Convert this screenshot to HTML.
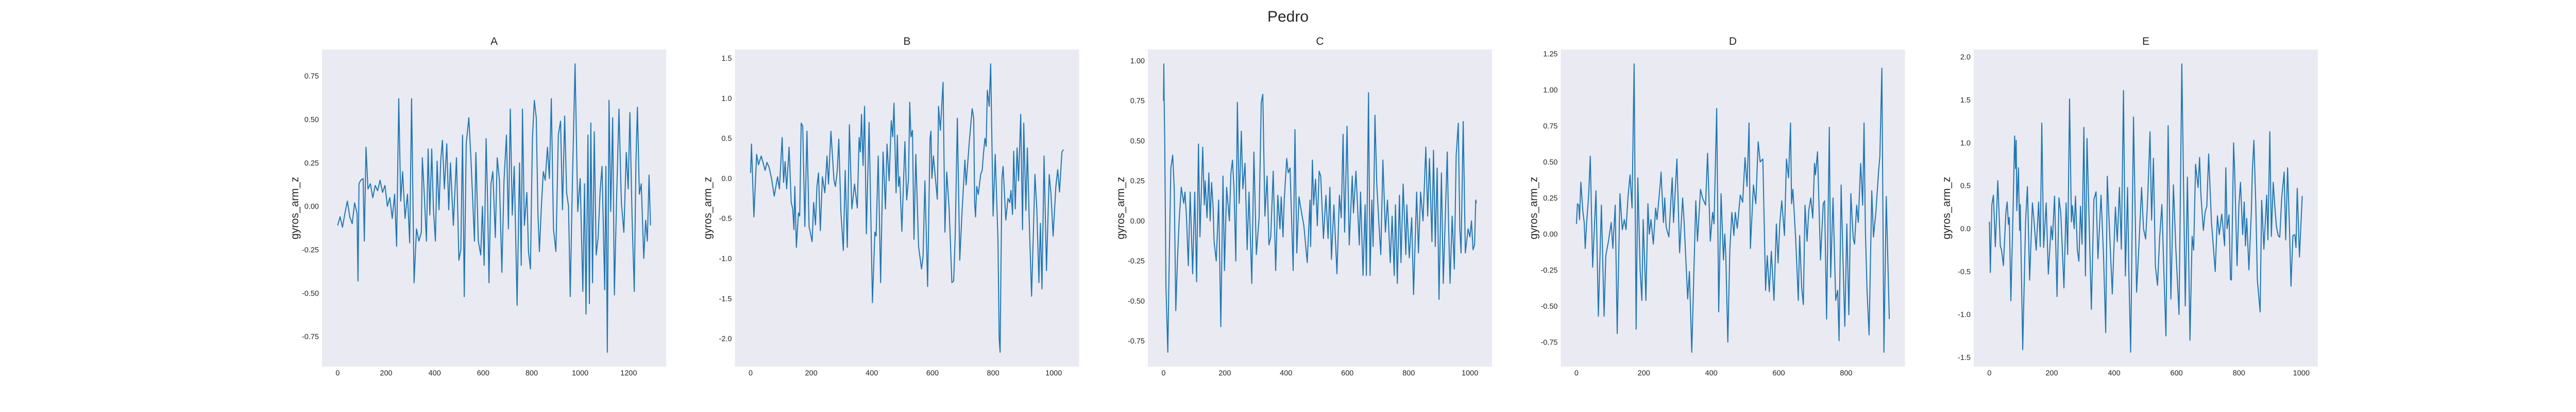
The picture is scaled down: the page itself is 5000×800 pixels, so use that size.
<!DOCTYPE html>
<html><head><meta charset="utf-8"><style>
html,body{margin:0;padding:0;background:#fff;}
svg{display:block;font-family:"Liberation Sans",sans-serif;}
</style></head><body>
<svg id="fig" width="5000" height="800" viewBox="0 0 5000 800" xmlns="http://www.w3.org/2000/svg">
<text x="2500" y="42" text-anchor="middle" font-size="30" fill="#262626">Pedro</text>
</svg>
<script>
const panelNames = ["A","B","C","D","E"];
const aX = [0,10,20,30,40,50,60,70,80,84,88,95,105,110,117,125,135,145,155,165,175,185,195,205,215,225,235,243,252,260,268,278,288,297,305,315,325,335,345,349,355,366,373,380,388,395,403,410,418,425,432,440,450,458,465,477,490,500,508,515,522,530,541,550,557,564,570,580,590,597,604,612,618,624,632,640,650,658,667,677,686,696,704,712,720,728,740,750,757,762,770,780,787,795,803,811,819,826,832,840,848,856,865,873,881,890,900,910,919,927,936,944,952,959,968,979,990,1000,1011,1018,1024,1032,1038,1044,1051,1058,1066,1074,1082,1090,1101,1106,1112,1119,1126,1134,1141,1150,1160,1170,1180,1190,1198,1205,1214,1223,1230,1236,1244,1252,1262,1270,1277,1284,1290];
const aY = [-0.11,-0.06,-0.12,-0.04,0.03,-0.06,-0.1,0.02,-0.04,-0.43,0.13,0.15,0.16,-0.2,0.34,0.1,0.13,0.05,0.12,0.09,0.15,0.08,0.12,0.0,0.05,-0.07,0.07,-0.23,0.62,0.03,0.2,-0.07,0.07,-0.21,0.62,-0.44,-0.13,-0.2,-0.15,0.28,0.13,-0.2,0.33,-0.05,0.33,-0.02,-0.2,0.26,-0.02,0.26,0.38,0.1,0.36,-0.02,0.25,-0.11,0.28,-0.31,-0.25,0.41,-0.52,0.36,0.51,0.26,0.03,-0.2,0.31,-0.2,-0.28,0.0,-0.34,0.39,0.05,-0.44,0.13,0.2,-0.18,0.28,0.15,-0.38,0.15,0.41,-0.13,0.56,-0.05,0.23,-0.57,0.25,-0.34,0.56,-0.11,0.08,-0.26,-0.36,0.39,0.61,0.51,-0.05,-0.26,0.0,0.2,0.15,0.34,0.16,0.62,-0.13,-0.26,0.41,0.49,-0.02,0.52,0.08,0.0,-0.52,0.15,0.82,-0.03,0.16,-0.49,0.13,-0.62,0.41,-0.56,0.48,-0.44,0.43,-0.28,-0.18,0.08,0.23,-0.48,0.23,-0.84,0.61,-0.03,0.51,-0.51,0.03,0.56,0.02,-0.15,0.31,0.1,0.54,-0.07,-0.49,0.26,0.57,0.07,0.13,-0.3,-0.08,-0.2,0.18,-0.11];
const bX = [0,3,11,20,26,35,43,48,54,61,69,78,89,95,104,109,114,119,127,134,139,143,146,151,158,162,167,172,179,186,193,203,208,214,219,224,230,237,245,252,257,265,275,280,286,291,298,306,312,319,326,334,343,352,358,362,366,371,376,382,391,402,410,414,421,429,437,445,450,457,464,469,473,480,484,488,492,499,509,515,521,525,529,534,539,545,554,564,569,575,584,592,595,598,603,616,620,626,635,641,647,655,664,670,675,682,690,698,707,711,722,731,736,739,742,746,751,759,764,768,773,777,781,787,792,800,807,816,820,823,829,833,842,849,855,859,864,868,873,879,884,891,897,901,908,913,919,927,933,938,944,951,956,961,968,976,985,991,998,1007,1013,1019,1027,1032];
const bY = [0.07,0.43,-0.48,0.3,0.17,0.28,0.17,0.1,0.2,0.14,0.0,-0.22,0.02,-0.13,0.51,-0.05,0.21,-0.13,0.39,-0.3,-0.38,-0.64,-0.1,-0.86,-0.43,-0.47,0.69,0.65,-0.6,0.59,-0.6,-0.79,-0.3,-0.58,-0.1,0.07,-0.65,0.02,-0.18,0.28,-0.07,0.59,-0.02,-0.1,0.1,0.49,-0.42,-0.9,0.1,-0.86,0.67,-0.38,-0.07,-0.37,0.51,0.33,0.8,0.16,0.9,-0.69,0.7,-1.55,-0.67,-0.72,0.28,-1.3,0.33,-0.38,0.43,-0.03,0.72,0.52,0.94,-0.18,0.54,-0.1,0.02,-0.66,0.46,-0.27,0.0,0.95,0.52,0.6,-0.76,0.3,-0.85,-1.13,-0.97,-0.03,-1.35,0.5,0.59,0.0,0.28,-0.26,0.9,0.6,1.2,-0.67,0.08,-0.38,-1.3,-1.28,-0.7,0.75,-1.02,-0.38,0.23,-0.08,0.48,0.87,0.75,-0.3,-0.48,-0.1,-0.2,0.05,0.1,0.3,0.5,0.4,1.1,0.9,1.43,-0.47,0.3,-0.75,-2.0,-2.17,0.0,0.15,-0.52,-0.25,-0.3,-0.15,-0.45,0.34,-0.38,0.38,-0.03,0.8,-0.64,0.69,-0.4,0.38,-0.5,-1.47,-0.65,0.05,-0.37,-1.3,-0.56,-1.38,0.28,-1.15,0.05,-0.2,-0.72,-0.1,0.11,-0.17,0.33,0.36];
const cX = [0,1,2,4,8,14,19,24,30,35,40,46,51,58,66,70,75,81,87,95,102,108,114,119,128,133,136,142,148,152,157,162,165,172,180,187,194,199,206,215,220,225,230,236,241,247,254,259,266,273,279,288,295,303,312,319,324,331,338,344,350,358,366,373,380,384,390,394,402,407,413,423,429,435,442,448,458,469,478,480,486,490,496,502,508,513,522,530,537,543,548,556,566,574,580,586,591,599,606,616,620,628,639,643,651,658,662,669,674,680,684,690,696,703,709,716,724,731,740,746,753,757,763,770,775,782,791,794,802,810,816,826,832,839,847,856,862,868,876,881,887,893,899,907,913,926,930,935,942,949,955,962,967,971,978,985,994,1000,1005,1010,1015,1019,1021];
const cY = [0.75,0.98,0.75,0.5,-0.41,-0.82,-0.2,0.33,0.41,0.2,-0.56,-0.22,0.0,0.21,0.11,0.18,0.02,-0.28,0.18,-0.33,0.18,-0.38,0.48,-0.1,0.46,0.1,0.25,0.02,0.3,0.0,0.24,0.08,-0.13,-0.25,0.13,-0.66,0.28,-0.31,0.21,0.0,0.3,0.38,0.2,-0.25,0.74,0.11,0.56,0.2,0.36,-0.18,0.18,-0.39,0.43,-0.21,0.02,0.74,0.79,0.03,0.28,-0.15,-0.1,0.31,-0.31,0.16,-0.05,0.15,-0.1,0.13,0.39,0.3,0.33,-0.31,0.57,-0.2,0.15,0.08,-0.03,-0.26,0.13,-0.16,0.38,0.1,0.26,-0.03,0.31,0.28,-0.11,0.16,-0.11,0.21,-0.24,0.1,-0.33,0.16,0.02,0.54,-0.07,0.59,-0.15,0.28,0.05,0.31,-0.15,0.18,-0.34,0.1,-0.34,0.8,-0.34,0.13,-0.16,0.66,0.23,-0.02,-0.21,0.38,-0.07,0.13,-0.26,0.03,-0.34,0.1,-0.39,0.16,-0.26,0.23,-0.21,0.1,-0.23,0.02,-0.46,0.18,-0.2,0.18,0.0,0.46,0.03,0.39,-0.13,0.44,-0.16,0.33,-0.49,0.3,-0.39,0.43,0.0,-0.39,0.03,-0.3,0.41,0.61,-0.05,-0.2,0.62,-0.2,-0.05,-0.1,0.0,-0.18,-0.15,0.13,0.11];
const dX = [0,3,7,9,13,19,23,26,30,36,41,48,58,65,74,82,87,95,103,108,115,121,129,136,142,147,153,159,165,171,177,182,189,194,198,206,212,216,221,228,235,239,249,251,258,262,266,274,284,288,298,306,315,319,330,335,342,354,359,368,374,383,389,397,404,408,416,422,429,436,440,443,449,455,461,467,471,477,486,493,500,506,512,516,525,532,539,545,553,561,566,572,578,586,593,598,603,609,617,623,629,635,638,642,650,658,662,668,673,678,684,689,695,701,706,709,715,724,732,736,742,750,754,761,769,775,779,785,790,796,802,808,814,821,825,831,836,843,849,853,857,862,868,876,881,888,896,900,906,912,919,928];
const dY = [0.07,0.21,0.2,0.1,0.36,0.16,0.08,-0.1,0.07,0.26,0.54,-0.23,0.3,-0.57,0.2,-0.57,-0.15,-0.05,0.08,-0.1,0.2,-0.69,0.28,0.03,0.1,0.03,0.26,0.41,0.18,1.18,-0.66,0.39,-0.25,-0.46,0.1,-0.46,0.21,0.0,0.1,-0.07,0.18,0.1,0.36,0.43,0.08,0.25,0.05,-0.02,0.39,0.08,0.52,-0.13,0.25,0.1,-0.45,-0.26,-0.82,0.23,-0.05,0.31,0.25,0.2,0.56,-0.05,0.15,0.07,0.87,-0.54,0.28,-0.18,0.0,-0.15,-0.75,-0.11,0.15,-0.01,0.15,0.04,0.27,0.22,0.53,0.33,0.77,-0.1,0.34,0.21,0.64,0.5,0.52,-0.39,-0.15,-0.4,-0.12,-0.46,0.07,-0.2,0.07,0.23,-0.01,0.52,0.39,0.77,0.21,0.31,-0.02,-0.46,-0.01,-0.37,-0.49,0.2,-0.05,0.16,0.25,0.11,0.49,0.41,0.57,-0.18,0.21,0.23,-0.59,0.74,-0.3,0.25,-0.46,-0.39,-0.74,0.34,-0.12,-0.64,0.07,-0.56,0.28,-0.03,-0.07,0.2,0.08,0.49,0.2,0.77,0.02,-0.39,-0.7,0.3,-0.02,0.15,0.43,0.54,1.15,-0.82,0.26,-0.59];
const eX = [0,3,8,13,19,27,35,39,45,53,57,61,64,69,76,81,84,86,88,93,97,99,107,116,122,129,138,143,150,158,163,168,174,182,189,198,202,209,217,223,229,239,246,251,257,263,266,272,276,282,287,292,297,303,308,313,327,335,342,348,358,366,373,378,386,394,404,410,417,423,430,436,443,447,453,462,472,480,488,494,501,507,515,520,526,532,539,546,553,559,566,573,582,590,598,608,617,628,635,643,650,655,661,669,674,678,686,692,697,703,712,724,731,737,745,754,758,762,768,773,776,783,786,794,800,805,812,817,821,825,832,840,843,848,854,859,868,873,880,889,893,899,904,910,915,920,926,931,937,945,950,956,962,967,973,979,983,987,994,1003];
const eY = [0.08,-0.51,0.28,0.39,-0.21,0.56,-0.2,-0.25,-0.43,0.2,0.31,0.05,0.13,-0.84,0.23,1.08,0.7,1.03,0.21,0.71,-0.02,0.28,-1.41,0.08,0.49,-0.6,0.3,0.1,-0.25,0.31,-0.21,1.23,-0.22,0.3,-0.53,0.03,-0.13,0.38,-0.79,0.36,0.18,-0.69,0.3,-0.3,1.51,0.08,0.27,0.0,0.38,-0.25,-0.38,0.26,-0.18,1.18,-0.55,1.05,-0.94,0.34,0.43,-0.35,0.39,-0.33,-1.21,0.61,-0.1,-0.76,0.25,-0.15,0.48,-0.24,1.61,-0.55,0.48,-0.5,-1.44,1.3,-0.74,-0.15,0.48,0.0,-0.12,0.3,1.13,0.1,0.82,-0.43,-0.66,-0.1,0.28,-0.45,-1.25,1.2,-0.82,0.51,-0.25,-1.0,1.92,-0.9,0.6,-1.3,-0.09,-0.25,0.75,0.48,0.83,0.4,-0.02,0.2,0.26,0.87,0.08,-0.5,0.15,-0.07,0.17,-0.2,0.71,0.0,0.16,-0.59,-0.6,1.0,0.7,-0.43,0.27,0.54,-0.07,0.31,-0.2,0.12,-0.48,0.2,0.67,1.03,0.3,-0.6,-0.97,0.33,-0.24,0.39,-0.13,1.13,-0.09,0.54,0.26,0.03,-0.08,-0.1,0.35,0.66,-0.13,0.71,0.02,-0.67,-0.08,-0.07,-0.22,0.47,-0.33,0.38];
const xTicks = [[0,200,400,600,800,1000,1200],[0,200,400,600,800,1000],[0,200,400,600,800,1000],[0,200,400,600,800],[0,200,400,600,800,1000]];
const yTickLabels = [["-0.75","-0.50","-0.25","0.00","0.25","0.50","0.75"],["-2.0","-1.5","-1.0","-0.5","0.0","0.5","1.0","1.5"],["-0.75","-0.50","-0.25","0.00","0.25","0.50","0.75","1.00"],["-0.75","-0.50","-0.25","0.00","0.25","0.50","0.75","1.00","1.25"],["-1.5","-1.0","-0.5","0.0","0.5","1.0","1.5","2.0"]];
const seriesX = [aX,bX,cX,dX,eX];
const seriesY = [aY,bY,cY,dY,eY];

const NS = "http://www.w3.org/2000/svg";
const svg = document.getElementById("fig");
const lefts = [625,1426.5,2228,3029.5,3831];
const W = 668, TOP = 96, H = 616;
function mk(tag, attrs, parent){const e=document.createElementNS(NS,tag);for(const k in attrs)e.setAttribute(k,attrs[k]);(parent||svg).appendChild(e);return e;}

for(let p=0;p<5;p++){
  const xs=seriesX[p], ys=seriesY[p];
  const xmin=Math.min(...xs), xmax=Math.max(...xs), ymin=Math.min(...ys), ymax=Math.max(...ys);
  const x0=xmin-0.05*(xmax-xmin), x1=xmax+0.05*(xmax-xmin);
  const y0=ymin-0.05*(ymax-ymin), y1=ymax+0.05*(ymax-ymin);
  const L=lefts[p];
  const sx=v=>L+(v-x0)/(x1-x0)*W;
  const sy=v=>TOP+H-(v-y0)/(y1-y0)*H;
  const g=mk("g",{});
  
  
  const bg=mk("rect",{x:L,y:TOP,width:W,height:H,fill:"#eaeaf2"},g);
  
  
  const t=mk("text",{x:L+W/2,y:87,"text-anchor":"middle","font-size":"21",fill:"#262626"},g);
  t.textContent=panelNames[p];
  
  
  for(const v of xTicks[p]){
    const tx=mk("text",{x:sx(v),y:729,"text-anchor":"middle","font-size":"14.5",fill:"#262626"},g);
    tx.textContent=String(v);
    
    
  }
  for(const lab of yTickLabels[p]){
    const v=parseFloat(lab);
    const ty=mk("text",{x:L-6,y:sy(v)+5,"text-anchor":"end","font-size":"14.5",fill:"#262626"},g);
    ty.textContent=lab;
    
    
  }
  const yl=mk("text",{x:0,y:0,"text-anchor":"middle","font-size":"21",fill:"#262626",transform:"translate("+(L-46)+","+(TOP+H/2)+") rotate(-90)"},g);
  yl.textContent="gyros_arm_z";
  
  
  let d="";
  for(let i=0;i<xs.length;i++){d+=(i?"L":"M")+sx(xs[i]).toFixed(1)+","+sy(ys[i]).toFixed(1);}
  const ln=mk("path",{d:d,fill:"none",stroke:"#1f77b4","stroke-width":"2","stroke-linejoin":"round"},g);
  
  
}
</script>
</body></html>
